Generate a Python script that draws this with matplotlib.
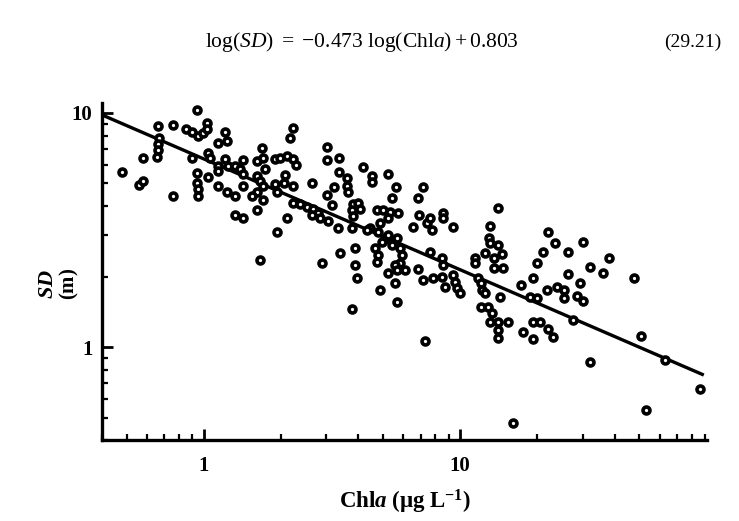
import numpy as np
import matplotlib
matplotlib.use("Agg")
import matplotlib.pyplot as plt
from matplotlib.ticker import LogLocator, NullFormatter, FixedLocator, FixedFormatter

plt.rcParams['font.family'] = ['Liberation Serif', 'DejaVu Serif']
plt.rcParams['mathtext.fontset'] = 'custom'
plt.rcParams['mathtext.rm'] = 'Liberation Serif'
plt.rcParams['mathtext.it'] = 'Liberation Serif:italic'
plt.rcParams['mathtext.bf'] = 'Liberation Serif:bold'
plt.rcParams['mathtext.bfit'] = 'Liberation Serif:bold:italic'

# Chl a (ug/L) vs Secchi depth (m)
chla = [0.48, 0.56, 0.58, 0.58, 0.66, 0.67, 0.66, 0.66, 0.655, 0.76,
        0.76, 0.85, 0.90, 0.95, 0.99, 1.03, 1.03, 0.94, 0.90, 0.94,
        0.94, 0.95, 0.95, 1.04, 1.04, 1.06, 1.13, 1.21, 1.23, 1.13,
        1.13, 1.21, 1.24, 1.32, 1.38, 1.42, 1.42, 1.13, 1.23, 1.32,
        1.42, 1.32, 1.42, 1.61, 1.70, 1.69, 1.73, 1.61, 1.66, 1.70,
        1.61, 1.54, 1.70, 1.61, 1.66, 2.23, 2.17, 1.89, 1.98, 2.11,
        2.23, 2.29, 2.07, 2.05, 1.89, 1.93, 2.23, 3.02, 3.02, 3.37,
        3.37, 3.62, 3.62, 3.65, 2.64, 3.22, 3.02, 3.16, 4.18, 4.53,
        4.53, 5.23, 5.62, 5.42, 7.17, 6.85, 2.23, 2.37, 2.53, 2.67,
        2.79, 2.64, 2.84, 3.05, 2.11, 1.93, 3.34, 3.82, 4.00, 3.79,
        3.82, 3.79, 4.07, 4.74, 5.00, 5.33, 5.73, 4.87, 5.23, 4.45,
        4.78, 5.09, 5.42, 5.67, 5.23, 6.55, 6.92, 7.43, 2.89, 3.40,
        3.89, 3.89, 3.96, 3.79, 4.66, 4.78, 4.74, 4.96, 5.42, 5.83,
        5.93, 5.83, 6.10, 5.57, 5.23, 5.57, 4.87, 5.67, 6.85, 7.17,
        7.30, 4.33, 5.67, 7.63, 7.77, 8.58, 8.58, 9.39, 14.0, 13.1,
        12.9, 13.1, 14.0, 12.5, 13.5, 14.5, 14.7, 13.5, 11.4, 11.4,
        7.63, 8.51, 8.58, 7.85, 8.51, 8.74, 9.39, 9.56, 9.73, 10.0,
        11.7, 12.0, 12.2, 22.1, 23.5, 30.0, 21.1, 20.0, 19.3, 26.4,
        26.4, 29.4, 32.2, 17.2, 18.8, 21.9, 23.9, 25.3, 14.3, 12.5,
        20.0, 25.3, 28.6, 30.0, 12.0, 12.8, 13.3, 13.1, 14.0, 14.0,
        14.0, 15.4, 19.3, 20.5, 22.1, 23.1, 19.3, 17.6, 27.6, 32.2,
        16.0, 38.2, 36.2, 47.8, 50.9, 63.2, 85.9, 53.3]

sd = [5.61, 4.94, 5.14, 6.44, 8.81, 7.83, 7.38, 6.96, 6.50, 8.89,
      4.43, 8.55, 8.30, 7.98, 8.22, 9.07, 8.55, 10.3, 6.44, 5.55,
      5.04, 4.75, 4.43, 5.34, 6.76, 6.44, 7.45, 8.30, 7.60, 5.95,
      5.66, 6.37, 5.95, 5.95, 5.78, 6.31, 5.50, 4.89, 4.57, 4.43,
      4.89, 3.68, 3.57, 6.25, 6.44, 7.10, 5.78, 5.39, 5.14, 4.89,
      4.57, 4.43, 4.26, 3.83, 2.35, 8.63, 7.83, 6.37, 6.44, 6.56,
      6.37, 6.01, 5.45, 5.04, 4.99, 4.57, 4.89, 7.17, 6.31, 6.44,
      5.61, 5.29, 4.89, 4.57, 5.04, 4.84, 4.48, 4.06, 5.89, 5.39,
      5.09, 5.50, 4.84, 4.35, 4.84, 4.35, 4.14, 4.10, 3.98, 3.87,
      3.75, 3.65, 3.57, 3.47, 3.54, 3.09, 3.21, 4.10, 4.14, 3.83,
      3.61, 3.21, 3.90, 3.83, 3.83, 3.79, 3.75, 3.37, 3.54, 3.21,
      3.09, 2.91, 2.80, 2.91, 3.00, 3.24, 3.65, 3.37, 2.28, 2.51,
      2.64, 2.23, 1.97, 1.45, 2.64, 2.46, 2.30, 2.80, 2.72, 2.64,
      2.46, 2.28, 2.13, 2.23, 2.08, 1.87, 1.75, 1.55, 2.15, 1.93,
      1.06, 3.15, 2.13, 3.54, 3.15, 3.75, 3.54, 3.24, 3.94, 3.30,
      2.91, 2.77, 2.72, 2.51, 2.39, 2.49, 2.17, 2.17, 2.39, 2.28,
      2.54, 2.41, 2.23, 1.97, 1.99, 1.80, 2.03, 1.89, 1.78, 1.70,
      1.97, 1.87, 1.75, 3.09, 2.77, 2.80, 2.54, 2.28, 1.97, 2.54,
      2.06, 1.87, 2.19, 1.84, 1.63, 1.75, 1.80, 1.75, 1.63, 1.70,
      1.62, 1.62, 1.66, 1.58, 1.48, 1.48, 1.40, 1.28, 1.28, 1.18,
      1.09, 1.28, 1.28, 1.28, 1.20, 1.10, 1.08, 1.16, 1.30, 0.86,
      0.475, 2.41, 2.08, 1.97, 1.11, 0.88, 0.66, 0.54]

# regression from eq. 29.21
slope = -0.473
intercept = 0.803
line_x = np.array([0.4, 88.0])
line_y = 10 ** (intercept + slope * np.log10(line_x))

fig = plt.figure(figsize=(7.39, 5.21), dpi=100)
ax = fig.add_axes([0.138, 0.155, 0.819, 0.647])

ax.plot(line_x, line_y, color='black', lw=2.4, zorder=2)
ax.plot(chla, sd, 'o', ms=5.0, mfc='white', mec='black', mew=2.6,
        ls='none', zorder=3)

ax.set_xscale('log')
ax.set_yscale('log')
ax.set_xlim(0.4, 92)
ax.set_ylim(0.4, 11)

for s in ['top', 'right']:
    ax.spines[s].set_visible(False)
for s in ['left', 'bottom']:
    ax.spines[s].set_linewidth(2.4)

ax.xaxis.set_major_locator(FixedLocator([1, 10]))
ax.xaxis.set_major_formatter(FixedFormatter(['1', '10']))
ax.yaxis.set_major_locator(FixedLocator([1, 10]))
ax.yaxis.set_major_formatter(FixedFormatter(['1', '10']))
ax.xaxis.set_minor_locator(LogLocator(base=10, subs=np.arange(2, 10)))
ax.yaxis.set_minor_locator(LogLocator(base=10, subs=np.arange(2, 10)))
ax.xaxis.set_minor_formatter(NullFormatter())
ax.yaxis.set_minor_formatter(NullFormatter())

ax.tick_params(which='major', direction='in', length=8, width=2.0)
ax.tick_params(which='minor', direction='in', length=4, width=1.6)
ax.tick_params(axis='x', which='major', pad=11)
ax.tick_params(axis='y', which='major', pad=7)
for lab in ax.get_xticklabels() + ax.get_yticklabels():
    lab.set_fontsize(15)
    lab.set_fontweight('bold')

ax.set_xlabel(r'$\mathbf{Chl}\mathbfit{a}\ \mathbf{(\mu g\ L^{-1})}$',
              fontsize=16.5, labelpad=9)

fig.text(0.066, 0.455, r'$\mathbfit{SD}$', rotation=90, fontsize=16,
         ha='center', va='center')
fig.text(0.094, 0.455, r'$\mathbf{(m)}$', rotation=90, fontsize=15,
         ha='center', va='center')

fig.text(0.49, 0.919,
         r'$\mathrm{log}(\mathit{SD})\ =\ {-}0.473\ \mathrm{log(Chl}\mathit{a}\mathrm{)} + 0.803$',
         fontsize=15.5, ha='center', va='center')
fig.text(0.938, 0.919, '(29.21)', fontsize=14, ha='center', va='center')

fig.savefig('out.png', dpi=100)
